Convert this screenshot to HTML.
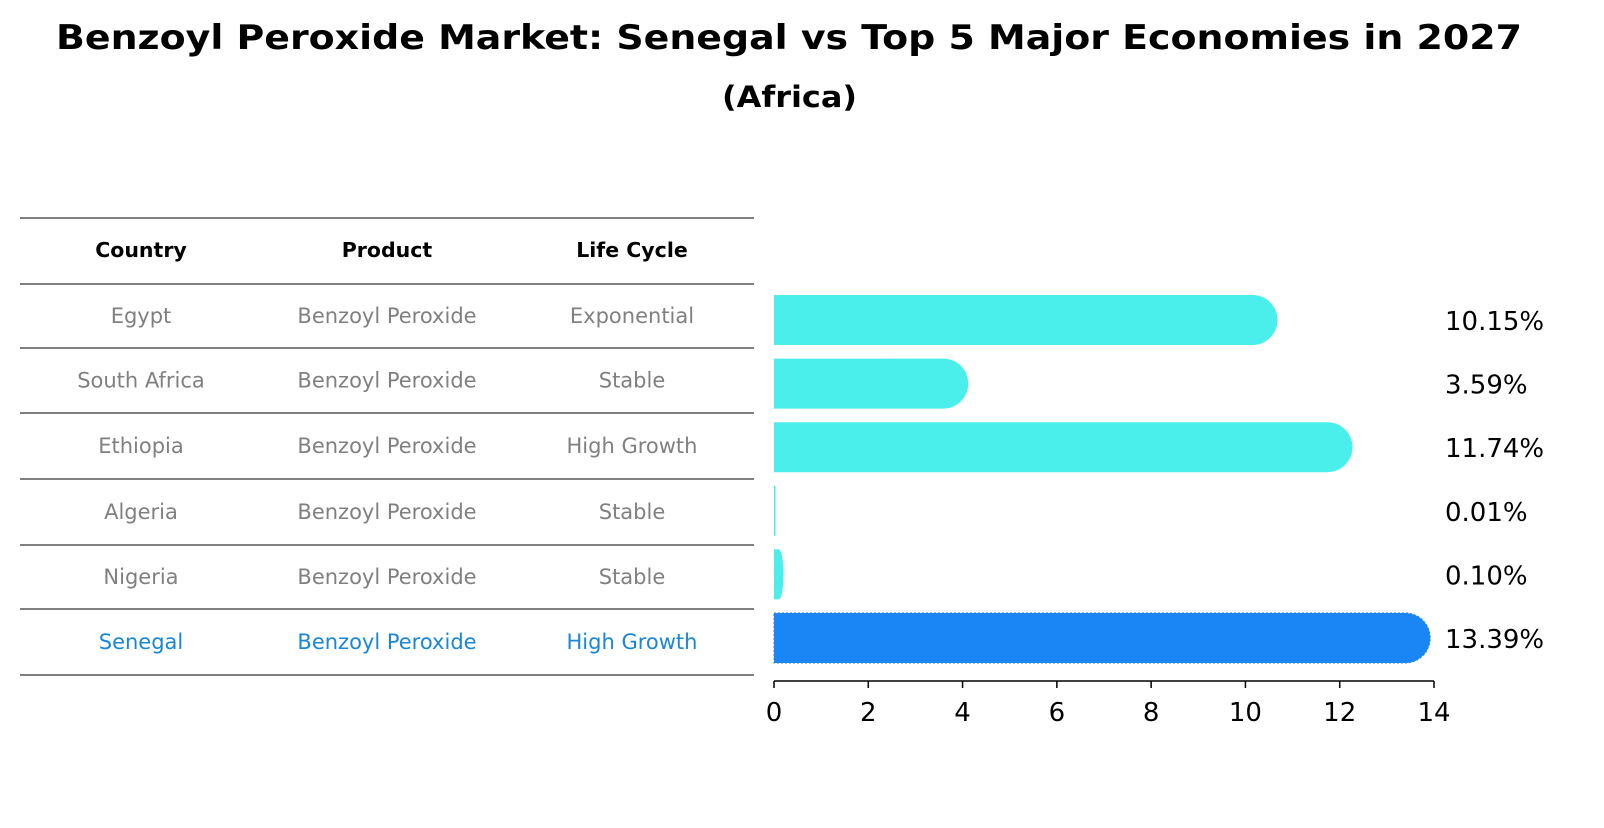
<!DOCTYPE html>
<html><head><meta charset="utf-8"><style>
body{margin:0;background:#fff;font-family:"Liberation Sans","DejaVu Sans",sans-serif;}
</style></head><body>
<svg width="1604" height="823" xmlns="http://www.w3.org/2000/svg">
<text x="56" y="49" textLength="1466" lengthAdjust="spacingAndGlyphs" font-size="34" font-weight="bold" font-family="DejaVu Sans, sans-serif">Benzoyl Peroxide Market: Senegal vs Top 5 Major Economies in 2027</text>
<text x="722" y="107" textLength="135" lengthAdjust="spacingAndGlyphs" font-size="29" font-weight="bold" font-family="DejaVu Sans, sans-serif">(Africa)</text>
<g id="table"></g>
<g id="bars"></g>
<g id="axis"></g>
</svg>
<script>
const countries=["Egypt","South Africa","Ethiopia","Algeria","Nigeria","Senegal"];
const products=["Benzoyl Peroxide","Benzoyl Peroxide","Benzoyl Peroxide","Benzoyl Peroxide","Benzoyl Peroxide","Benzoyl Peroxide"];
const lifecycles=["Exponential","Stable","High Growth","Stable","Stable","High Growth"];
const values=[10.15,3.59,11.74,0.01,0.10,13.39];
const ticks=[0,2,4,6,8,10,12,14];
const NS="http://www.w3.org/2000/svg";
const x0=774,pxPer=(1434-774)/14;
const xs=v=>x0+v*pxPer;
const rowY=i=>320+i*63.6;
function mk(tag,attrs,parent){const e=document.createElementNS(NS,tag);for(const k in attrs)e.setAttribute(k,attrs[k]);parent.appendChild(e);return e;}
const tbl=document.getElementById('table');
const lines=[218,284,348,413,479,545,609,675];
lines.forEach(y=>{const l=mk('line',{x1:20,x2:754,y1:y,y2:y,stroke:'#000','stroke-width':1},tbl);

});
const cx=[141,387,632];
["Country","Product","Life Cycle"].forEach((h,j)=>{const t=mk('text',{x:cx[j],y:257,'text-anchor':'middle','font-size':20.5,'font-weight':'bold','font-family':'DejaVu Sans, sans-serif'},tbl);t.textContent=h;

});
countries.forEach((c,i)=>{const y=(lines[i+1]+lines[i+2])/2+7;const col=i===5?'#1a86d8':'#808080';
[c,products[i],lifecycles[i]].forEach((s,j)=>{const t=mk('text',{x:cx[j],y:y,'text-anchor':'middle','font-size':21,fill:col,'font-family':'DejaVu Sans, sans-serif'},tbl);t.textContent=s;

});});
const bars=document.getElementById('bars');
values.forEach((v,i)=>{const y=rowY(i),h=50,w=xs(v)-x0;const last=i===5;
const col=last?'#1a86f5':'#4aeeea';
const g=mk('g',{},bars);


const r=Math.min(25,w);
if(w>3){mk('path',{d:`M${x0},${y-h/2} H${x0+w} A${r},25 0 0 1 ${x0+w},${y+h/2} H${x0} Z`,fill:col,stroke:last?'#2a7fe0':'none','stroke-dasharray':last?'2,2':'none'},g);}
else{mk('rect',{x:x0,y:y-h/2,width:Math.max(w*1.6,1.5),height:h,fill:col},g);}
const t=mk('text',{x:1445,y:y+10,'font-size':26,'font-family':'DejaVu Sans, sans-serif'},bars);t.textContent=v.toFixed(2)+'%';

});
const ax=document.getElementById('axis');
mk('line',{x1:x0,x2:1434,y1:681,y2:681,stroke:'#000','stroke-width':1.5},ax);
ticks.forEach(tk=>{const x=xs(tk);mk('line',{x1:x,x2:x,y1:681,y2:688,stroke:'#000','stroke-width':1.5},ax);
const t=mk('text',{x:x,y:721,'text-anchor':'middle','font-size':26,'font-family':'DejaVu Sans, sans-serif'},ax);t.textContent=tk;

});
</script>
</body></html>
